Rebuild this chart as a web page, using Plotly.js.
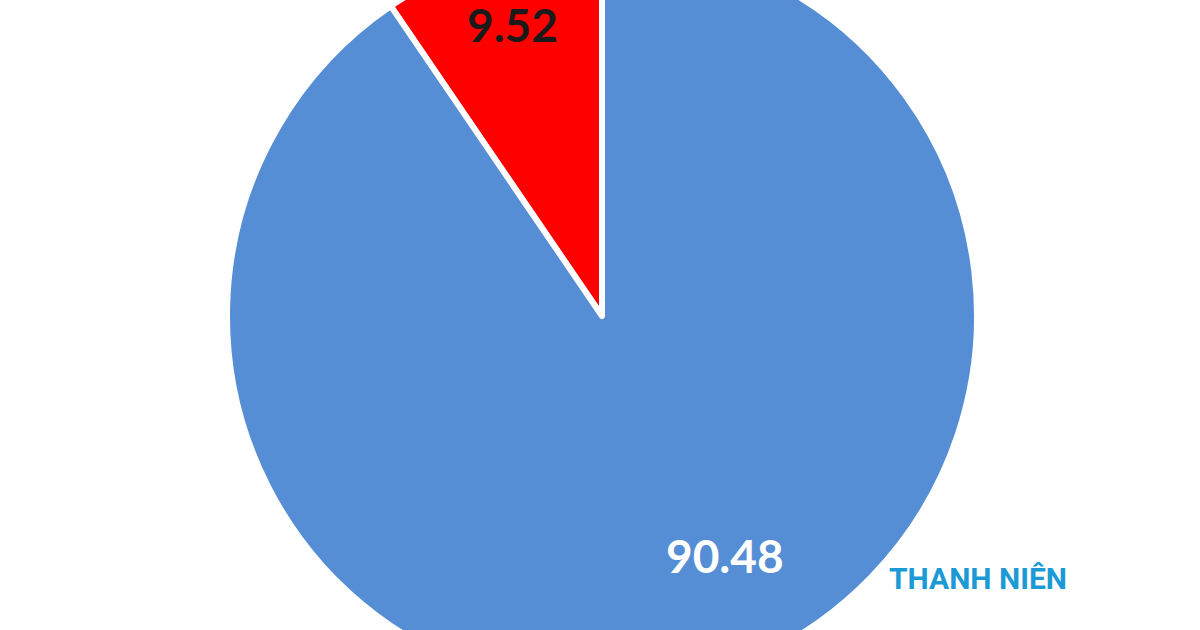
<!DOCTYPE html>
<html>
<head>
<meta charset="utf-8">
<script src="https://cdn.plot.ly/plotly-3.0.1.min.js"></script>
<style>
html,body{margin:0;padding:0;width:1200px;height:630px;overflow:hidden;background:#fff;}
#chart{position:absolute;left:2px;top:-59px;width:1200px;height:750px;}
</style>
</head>
<body>
<div id="chart"></div>
<script>
const categories = ["Nhóm A", "Nhóm B"];
const values = [9.52, 90.48];
const sliceColors = ["#FF0000", "#558ED5"];
const labelColors = ["#1a1a1a", "#FFFFFF"];
const watermark = "THANH NIÊN";

const H = 750, TOP = -59, LEFT = 2;
function py(screenY) { return 1 - (screenY - TOP) / H; }
function px(screenX) { return (screenX - LEFT) / 1200; }
const total = values.reduce((a, b) => a + b, 0);

const trace = {
  type: "pie",
  labels: categories,
  values: values,
  sort: false,
  direction: "clockwise",
  rotation: -values[0] / total * 360,
  marker: {colors: sliceColors, line: {color: "#FFFFFF", width: 6}},
  textinfo: "none",
  hoverinfo: "label+value",
  domain: {x: [0, 1], y: [0, 1]},
  showlegend: false
};

const labelPos = [[px(512), py(24)], [px(725), py(555)]];
const annotations = values.map((v, i) => ({
  text: "<b>" + v.toFixed(2) + "</b>",
  x: labelPos[i][0], y: labelPos[i][1], xref: "paper", yref: "paper",
  xanchor: "center", yanchor: "middle",
  showarrow: false,
  font: {family: "Lato, 'Open Sans', sans-serif", size: 46, color: labelColors[i]}
}));
annotations.push({
  text: "<b>" + watermark + "</b>",
  x: px(978), y: py(578), xref: "paper", yref: "paper", showarrow: false,
  xanchor: "center", yanchor: "middle",
  font: {family: "Roboto, sans-serif", size: 30, color: "#1B9AD6"}
});

const layout = {
  width: 1200, height: H,
  margin: {l: 0, r: 0, t: 0, b: 0},
  paper_bgcolor: "#FFFFFF",
  annotations: annotations
};

Plotly.newPlot("chart", [trace], layout, {staticPlot: true, displayModeBar: false});
</script>
</body>
</html>
